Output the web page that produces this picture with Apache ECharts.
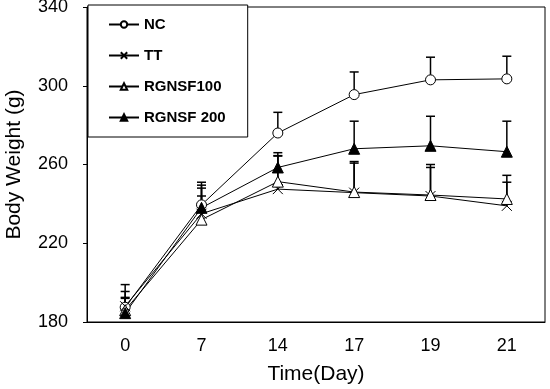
<!DOCTYPE html>
<html><head><meta charset="utf-8">
<script src="https://cdn.jsdelivr.net/npm/echarts@6/dist/echarts.min.js"></script>
<style>html,body{margin:0;padding:0;background:#fff}#c{width:550px;height:389px}</style>
</head><body><div id="c"></div>
<script>
var days = ['0', '7', '14', '17', '19', '21'];
var NC = [187.5, 239.5, 276, 295.5, 303, 303.5];
var NC_err = [8, 10, 10.5, 11.5, 11.5, 11.5];
var TT = [188, 235, 247.5, 245.7, 244, 239];
var TT_err = [11, 13, 17, 15, 14.5, 12];
var RGNSF100 = [186, 232, 251.3, 246, 244.5, 242.5];
var RGNSF100_err = [6, 12, 13, 15.5, 15.5, 12];
var RGNSF200 = [184.5, 238, 258.5, 268, 269.5, 266.5];
var RGNSF200_err = [8, 13, 7.5, 14, 15, 15.5];
var yTicks = [180, 220, 260, 300, 340];

var FONT = '"Liberation Sans", Arial, sans-serif';
var crossPath = 'path://M0,0L10,10M10,0L0,10';

function lineSeries(name, data, symbol, fill, size) {
  return {
    name: name, type: 'line', data: data, symbol: symbol, symbolSize: size,
    lineStyle: {color: '#000', width: 1},
    itemStyle: {color: fill, borderColor: '#000', borderWidth: 1},
    z: 5, animation: false
  };
}
function errSeries(vals, errs) {
  var d = vals.map(function (v, i) { return [i, v, v + errs[i]]; });
  return {
    type: 'custom', data: d, z: 3, silent: true, animation: false,
    renderItem: function (params, api) {
      var x = api.coord([api.value(0), api.value(1)]);
      var t = api.coord([api.value(0), api.value(2)]);
      var s = {stroke: '#000', lineWidth: 1.5};
      return {type: 'group', children: [
        {type: 'line', shape: {x1: x[0], y1: x[1], x2: t[0], y2: t[1]}, style: s},
        {type: 'line', shape: {x1: t[0] - 4.5, y1: t[1], x2: t[0] + 4.5, y2: t[1]}, style: s}
      ]};
    }
  };
}

var chart = echarts.init(document.getElementById('c'));
chart.setOption({
  animation: false,
  grid: {left: 87, right: 5, top: 7, bottom: 67, containLabel: false, outerBoundsMode: 'none',
         show: true, borderColor: '#000', borderWidth: 1, backgroundColor: 'transparent'},
  legend: {
    orient: 'vertical', left: 88, top: 5,
    padding: [12, 22, 12, 20], itemGap: 16, itemWidth: 30, itemHeight: 8,
    backgroundColor: '#fff', borderColor: '#000', borderWidth: 1,
    textStyle: {fontFamily: FONT, fontWeight: 'bold', fontSize: 15, color: '#000'},
    data: ['NC', 'TT', 'RGNSF100', 'RGNSF 200']
  },
  xAxis: {
    type: 'category', data: days, boundaryGap: true,
    name: 'Time(Day)', nameLocation: 'middle', nameGap: 42,
    nameTextStyle: {fontFamily: FONT, fontSize: 21, color: '#000'},
    axisLine: {lineStyle: {color: '#000', width: 1}},
    axisTick: {inside: true, length: 5, interval: 0, lineStyle: {color: '#000'}},
    axisLabel: {fontFamily: FONT, fontSize: 18, color: '#000', margin: 15}
  },
  yAxis: {
    type: 'value', min: yTicks[0], max: yTicks[yTicks.length - 1], interval: 40,
    name: 'Body Weight (g)', nameLocation: 'middle', nameGap: 62,
    nameTextStyle: {fontFamily: FONT, fontSize: 21, color: '#000'},
    axisLine: {show: true, lineStyle: {color: '#000', width: 1}},
    axisTick: {show: true, length: 4, lineStyle: {color: '#000'}},
    splitLine: {show: false},
    axisLabel: {fontFamily: FONT, fontSize: 18, color: '#000', margin: 19}
  },
  series: [
    errSeries(NC, NC_err), errSeries(TT, TT_err), errSeries(RGNSF100, RGNSF100_err), errSeries(RGNSF200, RGNSF200_err),
    lineSeries('NC', NC, 'circle', '#fff', 10),
    lineSeries('TT', TT, crossPath, 'none', 10),
    lineSeries('RGNSF100', RGNSF100, 'triangle', '#fff', 11),
    lineSeries('RGNSF 200', RGNSF200, 'triangle', '#000', 11)
  ]
});
</script></body></html>
